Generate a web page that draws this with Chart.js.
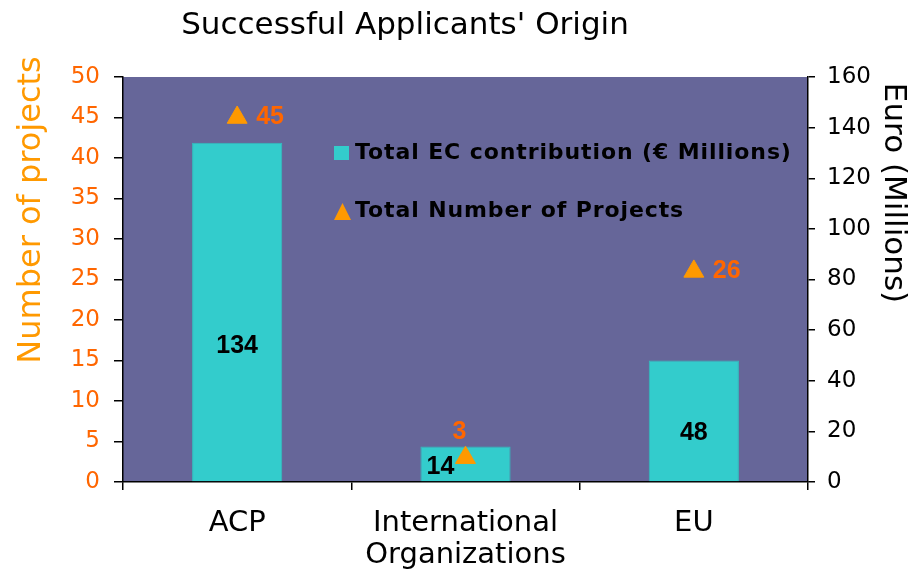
<!DOCTYPE html>
<html>
<head>
<meta charset="utf-8">
<script src="https://cdn.jsdelivr.net/npm/chart.js@4.4.1/dist/chart.umd.min.js"></script>
<style>
  html, body { margin: 0; padding: 0; background: #ffffff; }
  #wrap { width: 920px; height: 571px; }
</style>
</head>
<body>
<div id="wrap"><canvas id="chart" width="920" height="571"></canvas></div>
<script>

// data
const categories = [["ACP"], ["International", "Organizations"], ["EU"]];
const ecContribution = [134, 14, 48];   // Euro (Millions), right axis
const projectCounts = [45, 3, 26];      // number of projects, left axis

const leftTicks = { min: 0, max: 50, step: 5 };
const rightTicks = { min: 0, max: 160, step: 20 };

const seriesNames = ["Total EC contribution (\u20ac Millions)", "Total Number of Projects"];


const plotBg = "#666699";
const barColor = "#33CCCC";
const triColor = "#FF9900";
const orangeText = "#FF6600";
const tickFont = { family: "DejaVu Sans", size: 23 };


const decor = {

    id: "decor",

    beforeDraw(chart) {
        const a = chart.chartArea;
        const ctx = chart.ctx;
        ctx.save();
        ctx.fillStyle = plotBg;
        ctx.fillRect(a.left, a.top, a.right - a.left, a.bottom - a.top);
        ctx.restore();
    },

    afterDraw(chart) {
        const ctx = chart.ctx;
        ctx.save();

        // chart title
        ctx.fillStyle = "#000";
        ctx.font = "31px 'DejaVu Sans'";
        ctx.textAlign = "center";
        ctx.textBaseline = "middle";
        ctx.fillText("Successful Applicants' Origin", 405, 26);

        // axis titles
        ctx.save();
        ctx.translate(32, 210);
        ctx.rotate(-Math.PI / 2);
        ctx.fillStyle = triColor;
        ctx.font = "32px 'DejaVu Sans'";
        ctx.fillText("Number of projects", 0, 0);
        ctx.restore();

        ctx.save();
        ctx.translate(893, 193);
        ctx.rotate(Math.PI / 2);
        ctx.fillStyle = "#000";
        ctx.font = "31px 'DejaVu Sans'";
        ctx.fillText("Euro (Millions)", 0, 0);
        ctx.restore();

        // legend inside plot
        ctx.font = "bold 22px 'DejaVu Sans'";
        ctx.letterSpacing = "0.9px";
        ctx.textAlign = "left";
        ctx.fillStyle = barColor;
        ctx.fillRect(334, 146, 15, 14);
        ctx.fillStyle = "#000";
        ctx.fillText(seriesNames[0], 355, 153);

        ctx.fillStyle = triColor;
        ctx.beginPath();
        ctx.moveTo(342.5, 203);
        ctx.lineTo(351, 220);
        ctx.lineTo(334, 220);
        ctx.closePath();
        ctx.fill();
        ctx.fillStyle = "#000";
        ctx.fillText(seriesNames[1], 355, 211);
        ctx.letterSpacing = "0px";

        // value labels on bars
        ctx.font = "bold 25px 'Liberation Sans'";
        ctx.textAlign = "center";
        const bars = chart.getDatasetMeta(0).data;
        bars.forEach(function (bar, i) {
            let x = bar.x;
            if (i === 1) x -= 25;
            const y = bar.base - 0.40 * (bar.base - bar.y);
            ctx.fillStyle = "#000";
            ctx.fillText(String(ecContribution[i]), x, y);
        });

        // value labels on triangles
        const pts = chart.getDatasetMeta(1).data;
        pts.forEach(function (p, i) {
            ctx.fillStyle = orangeText;
            if (i === 1) {
                ctx.textAlign = "center";
                ctx.fillText(String(projectCounts[i]), p.x - 6, p.y - 26);
            } else {
                ctx.textAlign = "left";
                ctx.fillText(String(projectCounts[i]), p.x + 19, p.y);
            }
        });

        ctx.restore();
    }

};


new Chart(document.getElementById("chart"), {

    data: {
        labels: categories,
        datasets: [
            {
                type: "bar",
                label: seriesNames[0],
                data: ecContribution,
                yAxisID: "yR",
                backgroundColor: barColor,
                borderColor: "#30bfbf",
                borderWidth: 1,
                categoryPercentage: 1,
                barPercentage: 0.395,
                order: 1
            },
            {
                type: "line",
                label: seriesNames[1],
                data: projectCounts,
                yAxisID: "yL",
                showLine: false,
                pointStyle: "triangle",
                pointRadius: 11.5,
                pointBackgroundColor: triColor,
                pointBorderColor: triColor,
                pointBorderWidth: 1,
                order: 0
            }
        ]
    },

    options: {
        responsive: false,
        animation: false,
        layout: { padding: { top: 77, left: 0, right: 0, bottom: 0 } },
        plugins: {
            legend: { display: false },
            title: { display: false },
            tooltip: { enabled: false }
        },
        scales: {
            x: {
                offset: true,
                grid: { offset: true, drawOnChartArea: false, tickLength: 8, color: "#000", lineWidth: 1.5 },
                border: { display: true, color: "#000", width: 1.5 },
                ticks: {
                    color: "#000",
                    padding: 18,
                    maxRotation: 0,
                    font: { family: "DejaVu Sans", size: 29, lineHeight: 1.1 }
                },
                afterFit(scale) { scale.height = 89; }
            },
            yL: {
                position: "left",
                min: leftTicks.min,
                max: leftTicks.max,
                grid: { drawOnChartArea: false, tickLength: 9, color: "#000", lineWidth: 1.5 },
                border: { display: true, color: "#000", width: 1.5 },
                ticks: { stepSize: leftTicks.step, color: orangeText, padding: 14, font: tickFont },
                afterFit(scale) { scale.width = 123; }
            },
            yR: {
                position: "right",
                min: rightTicks.min,
                max: rightTicks.max,
                grid: { drawOnChartArea: false, tickLength: 7, color: "#000", lineWidth: 1.5 },
                border: { display: true, color: "#000", width: 1.5 },
                ticks: { stepSize: rightTicks.step, color: "#000", padding: 12, font: tickFont },
                afterFit(scale) { scale.width = 112; }
            }
        }
    },

    plugins: [decor]

});

</script>
</body>
</html>
